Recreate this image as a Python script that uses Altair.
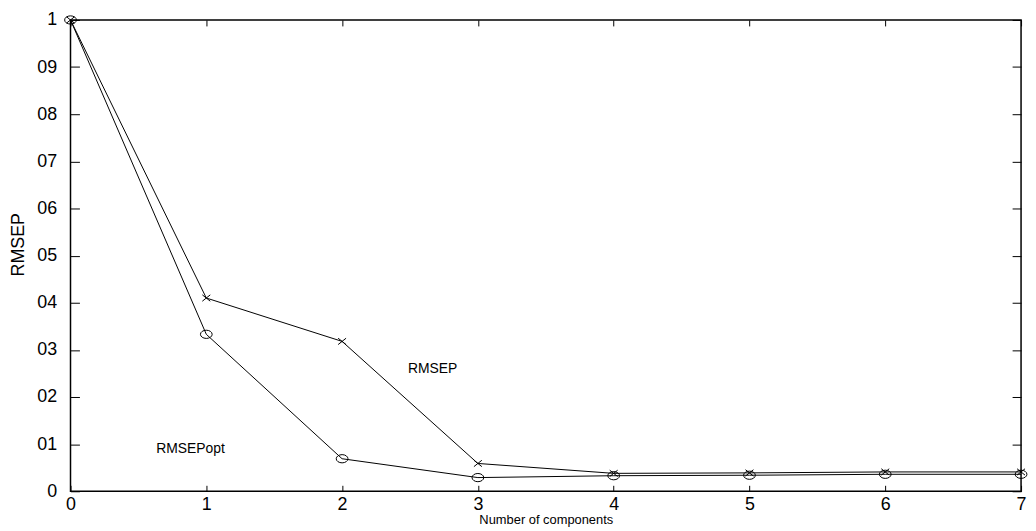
import altair as alt
import pandas as pd

components = [0, 1, 2, 3, 4, 5, 6, 7]
rmsep = [1.0, 0.41, 0.318, 0.059, 0.038, 0.039, 0.041, 0.041]
rmsep_opt = [1.0, 0.333, 0.069, 0.029, 0.033, 0.034, 0.036, 0.036]
y_ticks = [0, 0.1, 0.2, 0.3, 0.4, 0.5, 0.6, 0.7, 0.8, 0.9, 1.0]
y_tick_labels = ["0", "01", "02", "03", "04", "05", "06", "07", "08", "09", "1"]
x_ticks = [0, 1, 2, 3, 4, 5, 6, 7]
ann_text = ["RMSEP", "RMSEPopt"]
ann_x = [2.667, 0.884]
ann_y = [0.259, 0.09]

df = pd.DataFrame({
    "n": components * 2,
    "v": rmsep + rmsep_opt,
    "s": ["RMSEP"] * len(components) + ["RMSEPopt"] * len(components),
})
ann = pd.DataFrame({"t": ann_text, "x": ann_x, "y": ann_y})

FONT = "Liberation Sans"
label_expr = "[" + ",".join("'%s'" % s for s in y_tick_labels) + "][round(datum.value*10)]"

xs = alt.Scale(domain=[0, 7], nice=False, zero=False)
ys = alt.Scale(domain=[0, 1], nice=False, zero=False)

XT = 6
YT = 9

x_bottom = alt.Axis(orient="bottom", values=x_ticks, offset=-XT, tickSize=XT, domain=False,
                    grid=False, labelPadding=4, labelFlush=False, title="Number of components",
                    titlePadding=0, labelFontSize=18, titleFontSize=13,
                    titleFont=FONT, titleFontWeight="normal",
                    labelFont=FONT, labelColor="black", tickColor="black", titleColor="black")
y_left = alt.Axis(orient="left", values=y_ticks, offset=-YT, tickSize=YT, domain=False,
                  grid=False, labelPadding=14, labelFlush=False, labelExpr=label_expr, title="RMSEP",
                  titleY=226, titleX=-61, titleAngle=-90, titleAlign="center", titleBaseline="middle",
                  labelFontSize=18, titleFontSize=18,
                  titleFont=FONT, titleFontWeight="normal", labelFont=FONT,
                  labelColor="black", tickColor="black", titleColor="black")
x_top = alt.Axis(orient="top", values=x_ticks, offset=-XT, tickSize=XT, domain=False,
                 grid=False, labels=False, title=None, tickColor="black")
y_right = alt.Axis(orient="right", values=y_ticks, offset=-YT, tickSize=YT, domain=False,
                   grid=False, labels=False, title=None, tickColor="black")

base = alt.Chart(df)

line1 = base.mark_line(color="black", strokeWidth=1).encode(
    x=alt.X("n:Q", scale=xs, axis=x_bottom),
    y=alt.Y("v:Q", scale=ys, axis=y_left),
    detail="s:N",
)

circ = base.transform_filter(alt.datum.s == "RMSEPopt").mark_point(
    shape="M -1 0 A 1 0.7 0 1 0 1 0 A 1 0.7 0 1 0 -1 0 Z",
    size=140, filled=False, color="black", strokeWidth=1, opacity=1,
).encode(
    x=alt.X("n:Q", scale=xs, axis=x_top),
    y=alt.Y("v:Q", scale=ys, axis=y_right),
)

cross = base.transform_filter(alt.datum.s == "RMSEP").mark_point(
    shape="M -1 -0.8 L 1 0.8 M 1 -0.8 L -1 0.8",
    size=64, filled=False, color="black", strokeWidth=1, opacity=1,
).encode(
    x=alt.X("n:Q", scale=xs, axis=None),
    y=alt.Y("v:Q", scale=ys, axis=None),
)

text = alt.Chart(ann).mark_text(
    font=FONT, fontSize=14, color="black", align="center", baseline="middle"
).encode(
    x=alt.X("x:Q", scale=xs, axis=None),
    y=alt.Y("y:Q", scale=ys, axis=None),
    text="t:N",
)

chart = alt.layer(line1, circ, cross, text).resolve_axis(x="independent", y="independent").properties(
    width=958, height=475,
    autosize=alt.AutoSizeParams(type="none"),
    padding={"left": 63, "top": 10, "right": 7, "bottom": 38},
    background="white",
).configure_view(stroke="black", strokeWidth=1.5)

chart.save("out.html", embed_options={"renderer": "svg", "actions": False})
